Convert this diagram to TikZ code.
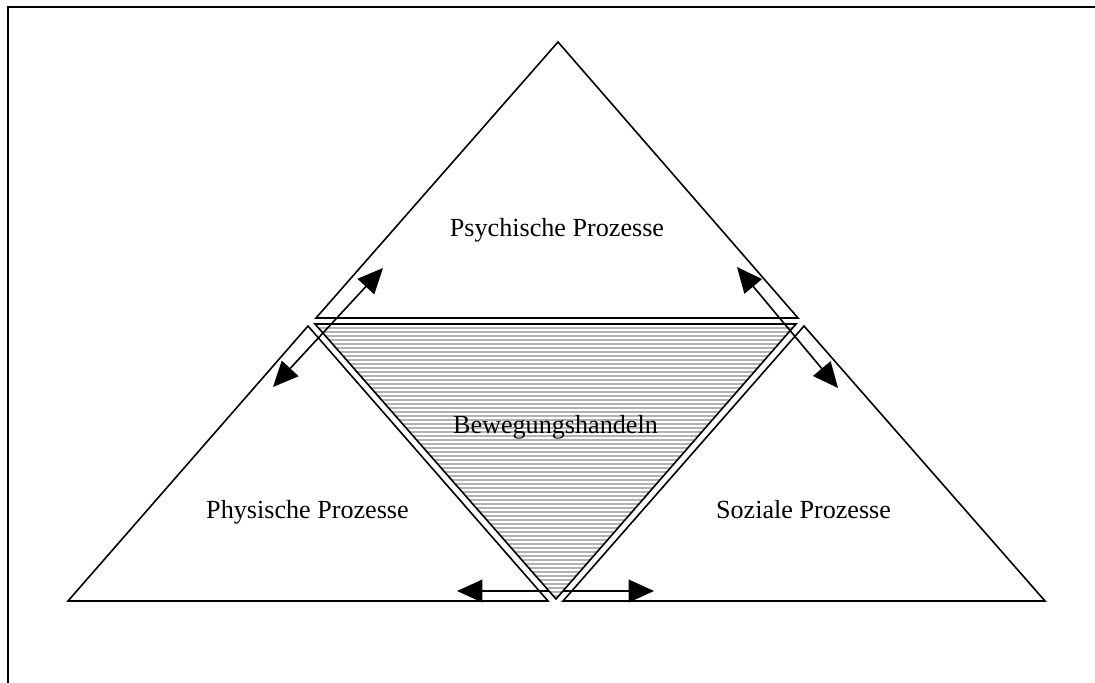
\documentclass[tikz,border=0pt]{standalone}
\usepackage{fontspec}
\setmainfont{Liberation Serif}
\usetikzlibrary{arrows.meta}
\tikzset{
  edge/.style={line width=1.2pt, line join=miter},
  link/.style={line width=1.2pt, {Triangle[length=19pt,width=17pt]}-{Triangle[length=19pt,width=17pt]}},
  label/.style={font=\fontsize{19.6}{23}\selectfont, anchor=base, inner sep=0pt},
  hatchfill/.style={fill=black!30}
}
\begin{document}
\begin{tikzpicture}[x=0.75pt, y=-0.75pt]
\useasboundingbox (0,0) rectangle (1095,682);

% outer frame (runs off the page to the right and below)
\draw[line width=1.5pt] (7.5,690) -- (7.5,7) -- (1100,7);

% corner points of the four triangles
\coordinate (tA) at (558,42);   \coordinate (tL) at (316,318);  \coordinate (tR) at (798,318);
\coordinate (lA) at (308,326);  \coordinate (lL) at (68,601);   \coordinate (lR) at (548,601);
\coordinate (rA) at (804,326);  \coordinate (rL) at (563,601);  \coordinate (rR) at (1045,601);
\coordinate (mL) at (315,324);  \coordinate (mR) at (796,324);  \coordinate (mB) at (556,599);

% arrow end points
\coordinate (a1) at (273,387);  \coordinate (a2) at (383,268);
\coordinate (b1) at (737,267);  \coordinate (b2) at (838,388);
\coordinate (c1) at (457,591);  \coordinate (c2) at (654,591);

% bottom two-way arrow (passes under the central triangle)
\draw[link] (c1) -- (c2);

% central striped triangle
\fill[hatchfill] (mL) -- (mR) -- (mB) -- cycle;
\begin{scope}
  \clip (mL) -- (mR) -- (mB) -- cycle;
  \foreach \y in {326,330,...,602}
    \draw[white, line width=0.85pt] (300,\y) -- (820,\y);
\end{scope}
\draw[edge] (mL) -- (mR) -- (mB) -- cycle;

% outer triangles
\draw[edge] (tA) -- (tR) -- (tL) -- cycle;
\draw[edge] (lA) -- (lR) -- (lL) -- cycle;
\draw[edge] (rA) -- (rR) -- (rL) -- cycle;

% side arrows
\draw[link] (a1) -- (a2);
\draw[link] (b1) -- (b2);

% labels
\node[label] (psy) at (557,236.7) {Psychische Prozesse};
\node[label] (bew) at (555.5,433) {Bewegungshandeln};
\node[label] (phy) at (307.5,518.3) {Physische Prozesse};
\node[label] (soz) at (803.5,518) {Soziale Prozesse};
\end{tikzpicture}
\end{document}
